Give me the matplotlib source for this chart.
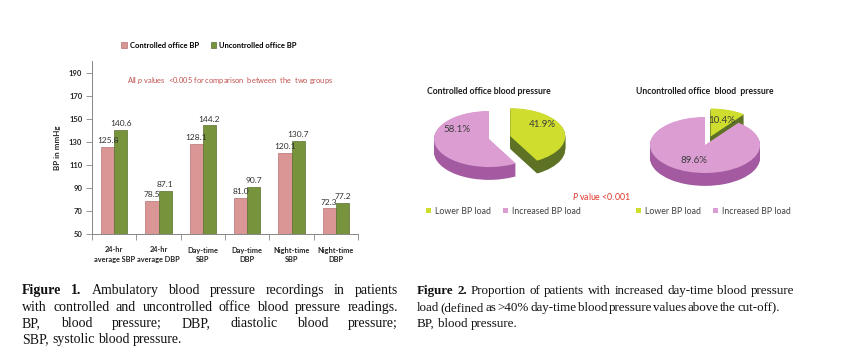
import matplotlib
matplotlib.use('Agg')
import numpy as np
import matplotlib.pyplot as plt

plt.rcParams['font.family'] = ['Lato', 'DejaVu Sans']
plt.rcParams['mathtext.fontset'] = 'custom'
plt.rcParams['mathtext.rm'] = 'Lato'
plt.rcParams['mathtext.it'] = 'Lato:italic'
plt.rcParams['mathtext.bf'] = 'Lato:bold'

# --- data: figure 1 (bars) ---
categorias = ['24-hr\naverage SBP', '24-hr\naverage DBP', 'Day-time\nSBP',
              'Day-time\nDBP', 'Night-time\nSBP', 'Night-time\nDBP']
controlado = [125.8, 78.5, 128.1, 81.0, 120.1, 72.3]
no_controlado = [140.6, 87.1, 144.2, 90.7, 130.7, 77.2]
series_bar = ['Controlled office BP', 'Uncontrolled office BP']
y_ticks = [50, 70, 90, 110, 130, 150, 170, 190]

# --- data: figure 2 (pies) ---
etiquetas_pie = ['Lower BP load', 'Increased BP load']
pie_controlado = [41.9, 58.1]
pie_no_controlado = [10.4, 89.6]
titulos_pie = ['Controlled office blood pressure', 'Uncontrolled office  blood  pressure']

cap1 = ['Figure 1. Ambulatory blood pressure recordings in patients',
        'with controlled and uncontrolled office blood pressure readings.',
        'BP, blood pressure; DBP, diastolic blood pressure;',
        'SBP, systolic blood pressure.']
cap2 = ['Figure 2. Proportion of patients with increased day-time blood pressure',
        'load (defined as >40% day-time blood pressure values above the cut-off).',
        'BP, blood pressure.']

W, H = 844, 355
fig = plt.figure(figsize=(W / 100, H / 100), dpi=100)


def px_box(x0, y0, x1, y1):
    return [x0 / W, 1 - y1 / H, (x1 - x0) / W, (y1 - y0) / H]


# ---------------- bar chart ----------------
gris = '#868686'
ax = fig.add_axes(px_box(92, 61, 358, 234))
x = np.arange(len(categorias))
w = 0.3
b1 = ax.bar(x - w / 2, controlado, w, color='#d99694', edgecolor='#b57573', linewidth=0.5, label=series_bar[0])
b2 = ax.bar(x + w / 2, no_controlado, w, color='#77933c', edgecolor='#5a7030', linewidth=0.5, label=series_bar[1])
ax.bar_label(b1, fmt='%.1f', padding=2, fontsize=6, color='#303030')
ax.bar_label(b2, fmt='%.1f', padding=2, fontsize=6, color='#303030')

ax.set_xlim(-0.5, len(categorias) - 0.5)
ax.set_ylim(50, 200)
ax.set_yticks(y_ticks)
ax.set_xticks(x)
ax.set_xticklabels(categorias, fontsize=5.3, fontweight='bold', color='#262626', linespacing=1.45)
ax.set_xticks(np.arange(-0.5, len(categorias)), minor=True)
ax.tick_params(axis='x', which='major', length=0, pad=9)
ax.tick_params(axis='x', which='minor', length=4, color=gris, width=0.6)
ax.tick_params(axis='y', length=4, color=gris, width=0.6, pad=3, labelsize=5.5)
for t in ax.get_yticklabels():
    t.set_fontweight('bold')
    t.set_color('#262626')
for s in ['top', 'right']:
    ax.spines[s].set_visible(False)
for s in ['left', 'bottom']:
    ax.spines[s].set_color(gris)
    ax.spines[s].set_linewidth(0.7)
ax.set_ylabel('BP in mmHg', fontsize=5.8, fontweight='bold', color='#262626', labelpad=6)

ax.text(0.52, 0.89, r'All $p$ values  <0.005 for comparison  between  the  two groups',
        transform=ax.transAxes, ha='center', va='center', fontsize=5.4, color='#c0504d')

ax.legend(loc='center', bbox_to_anchor=(209 / W, 1 - 45 / H), bbox_transform=fig.transFigure,
          ncol=2, frameon=False, prop={'weight': 'bold', 'size': 5.5},
          handlelength=0.7, handleheight=0.7, handletextpad=0.4, columnspacing=1.6)


# ---------------- 3D-ish pies ----------------
def pastel_3d(cx, cy, vals, explode, titulo, lab_dy, leg_x):
    sx, sy = 55.0, 28.0
    a = fig.add_axes(px_box(cx - 85, cy - 55, cx + 85, cy + 55))
    top = ['#cfdd2e', '#dc9dd3']
    side = ['#5e7226', '#a35aa0']
    depth = 0.46
    for d in np.linspace(depth, 0.02, 14):
        a.pie(vals, explode=explode, colors=side, startangle=90, counterclock=False,
              center=(0, -d), wedgeprops=dict(linewidth=0))
    wedges, _, autot = a.pie(vals, explode=explode, colors=top, startangle=90, counterclock=False,
                             autopct='%.1f%%', pctdistance=0.6, wedgeprops=dict(linewidth=0),
                             textprops=dict(fontsize=7, color='#3c3c3c'))
    for t, dy in zip(autot, lab_dy):
        px, py = t.get_position()
        t.set_position((px, py + dy))
    a.set_aspect('auto')
    a.set_xlim(-85 / sx, 85 / sx)
    a.set_ylim(-55 / sy, 55 / sy)
    a.axis('off')
    fig.text(cx / W, 1 - 92 / H, titulo, ha='center', va='center', fontsize=6.2,
             fontweight='bold', color='#1a1a1a')
    fig.legend(wedges, etiquetas_pie, loc='center left', bbox_to_anchor=(leg_x / W, 1 - 211 / H),
               ncol=2, frameon=False, fontsize=6.3, labelcolor='#404040', borderpad=0,
               borderaxespad=0, handlelength=0.55, handleheight=0.55, handletextpad=0.5,
               columnspacing=1.4)


pastel_3d(489, 139, pie_controlado, [0.4, 0], titulos_pie[0], [0.25, 0.5], 426)
pastel_3d(705, 145, pie_no_controlado, [0.32, 0], titulos_pie[1], [0.0, 0.0], 636)

fig.text(601 / W, 1 - 197 / H, r'$P$ value <0.001', ha='center', va='center',
         fontsize=6.3, color='#e0362c')


# ---------------- captions (justified) ----------------
def linea(texto, x0, x1, y, size, bold_n=0, justificar=True):
    r = fig.canvas.get_renderer()
    palabras = texto.split()
    arts = []
    for i, p in enumerate(palabras):
        t = fig.text(0, 1 - y / H, p, fontsize=size, family='Liberation Serif',
                     fontweight='bold' if i < bold_n else 'normal', va='baseline', color='#111111')
        arts.append(t)
    anchos = [t.get_window_extent(renderer=r).width for t in arts]
    if justificar and len(arts) > 1:
        hueco = (x1 - x0 - sum(anchos)) / (len(arts) - 1)
    else:
        hueco = size * 100 / 72 * 0.25
    xp = x0
    for t, an in zip(arts, anchos):
        t.set_x(xp / W)
        xp += an + hueco


ys = [294, 311, 327, 343]
for i, l in enumerate(cap1):
    linea(l, 22, 398, ys[i], 10, bold_n=2 if i == 0 else 0, justificar=i < len(cap1) - 1)
fins2 = [794, 780]
for i, l in enumerate(cap2):
    linea(l, 417, fins2[i] if i < 2 else 0, ys[i], 9.4, bold_n=2 if i == 0 else 0,
          justificar=i < len(cap2) - 1)

fig.savefig('out.png', dpi=100, facecolor='white')
